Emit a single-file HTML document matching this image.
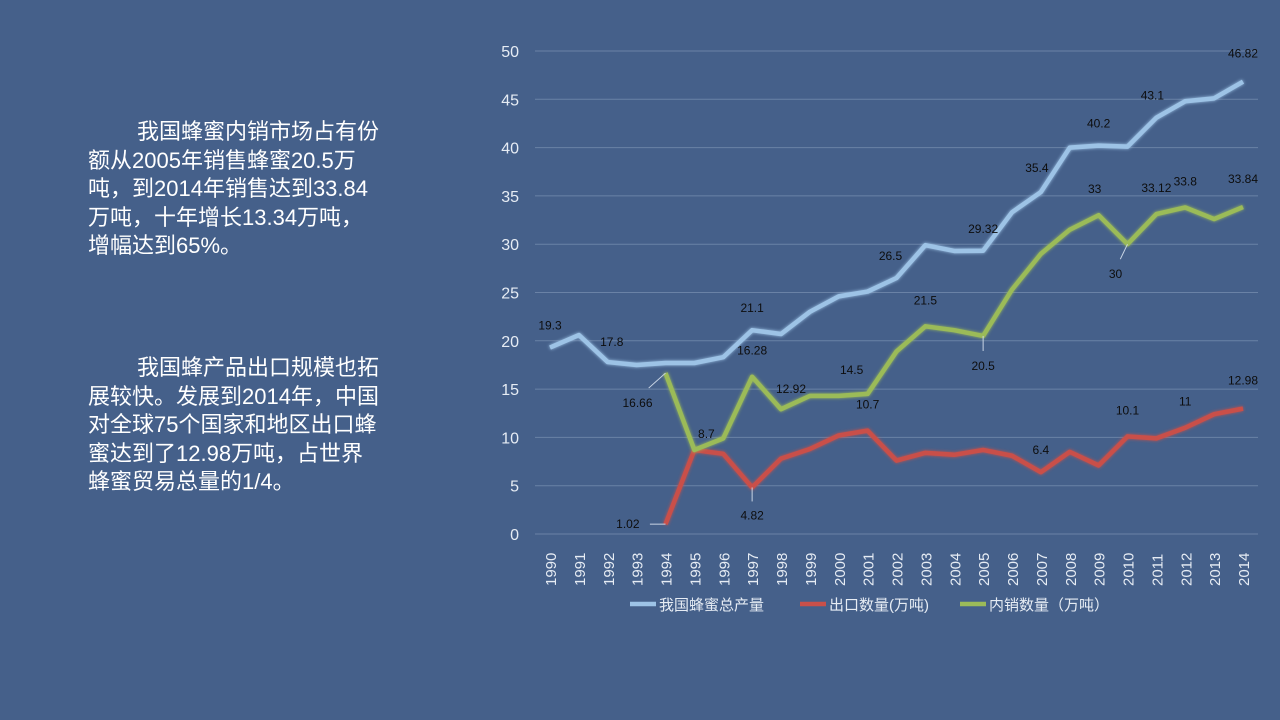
<!DOCTYPE html>
<html><head><meta charset="utf-8">
<style>
html,body{margin:0;padding:0;}
body{width:1280px;height:720px;background:#45608a;position:relative;overflow:hidden;font-family:"Liberation Sans","Noto Sans CJK SC",sans-serif;}
.txt{position:absolute;left:88px;color:#fff;font-size:22px;line-height:28.5px;font-family:"Liberation Sans Narrow","Liberation Sans","Noto Sans CJK SC",sans-serif;width:340px;white-space:nowrap;}
svg{position:absolute;left:0;top:0;}
</style></head>
<body>
<div class="txt" style="top:118px"><span style="padding-left:49px"></span>我国蜂蜜内销市场占有份<br>额从2005年销售蜂蜜20.5万<br>吨，到2014年销售达到33.84<br>万吨，十年增长13.34万吨，<br>增幅达到65%。</div>
<div class="txt" style="top:354px"><span style="padding-left:49px"></span>我国蜂产品出口规模也拓<br>展较快。发展到2014年，中国<br>对全球75个国家和地区出口蜂<br>蜜达到了12.98万吨，占世界<br>蜂蜜贸易总量的1/4。</div>
<svg id="chart" width="1280" height="720"></svg>
<script>
const years=[1990,1991,1992,1993,1994,1995,1996,1997,1998,1999,2000,2001,2002,2003,2004,2005,2006,2007,2008,2009,2010,2011,2012,2013,2014];
const totalProd=[19.3,20.6,17.8,17.5,17.7,17.7,18.3,21.1,20.7,23,24.6,25.1,26.5,29.9,29.3,29.32,33.3,35.4,40,40.2,40.1,43.1,44.8,45.1,46.82];
const exportQty=[null,null,null,null,1.02,8.7,8.3,4.82,7.8,8.8,10.2,10.7,7.6,8.4,8.2,8.7,8.1,6.4,8.5,7.1,10.1,9.9,11,12.4,12.98];
const domesticQty=[null,null,null,null,16.66,8.7,9.9,16.28,12.92,14.3,14.3,14.5,18.9,21.5,21.1,20.5,25.3,29,31.5,33,30,33.12,33.8,32.6,33.84];
const yTicks=[0,5,10,15,20,25,30,35,40,45,50];
const seriesNames=["我国蜂蜜总产量","出口数量(万吨)","内销数量（万吨）"];
const NS="http://www.w3.org/2000/svg";
const svg=document.getElementById('chart');
const x0=550,x1=1243,y0=534,y1=51;
const xs=i=>x0+(x1-x0)*i/(years.length-1);
const ys=v=>y0-(y0-y1)*v/50;
function el(t,a,p){const e=document.createElementNS(NS,t);for(const k in a)e.setAttribute(k,a[k]);(p||svg).appendChild(e);return e;}
const defs=el('defs',{});
const f=el('filter',{id:'glow',x:'-10%',y:'-10%',width:'120%',height:'120%'},defs);
el('feGaussianBlur',{stdDeviation:'1.5'},f);
const fm=el('feMerge',{},f);el('feMergeNode',{},fm);el('feMergeNode',{in:'SourceGraphic'},fm);
yTicks.forEach(t=>{
  const g=el('line',{x1:535,x2:1258,y1:ys(t),y2:ys(t),stroke:'#6a82a6','stroke-width':1});
  
  
  const l=el('text',{x:519,y:ys(t)+6,'text-anchor':'end',fill:'#e6ecf4','font-size':16});
  l.textContent=t;
  
  
});
years.forEach((y,i)=>{
  const t=el('text',{transform:`translate(${xs(i)+6},586) rotate(-90)`,fill:'#e6ecf4','font-size':15});
  t.textContent=y;
  
  
});
const colors=['#9dc3e6','#c9504a','#9bbb59'];
const data=[totalProd,exportQty,domesticQty];
const names=['line-total-production','line-export','line-domestic'];
data.forEach((d,s)=>{
  let p='';d.forEach((v,i)=>{if(v==null)return;p+=(p?'L':'M')+xs(i)+','+ys(v);});
  const path=el('path',{d:p,fill:'none',stroke:colors[s],'stroke-width':4.5,'stroke-linejoin':'round',filter:'url(#glow)'});
  
  
});
// data labels: [series, index, dx, dy]
const labels=[[0,0,0,-18],[0,2,4,-16],[0,7,0,-18],[0,12,-6,-18],[0,15,0,-18],[0,17,-4,-20],[0,19,0,-18],[0,21,-4,-18],[0,24,0,-24],
[2,4,-28,30],[2,5,12,-12],[2,7,0,-22],[2,8,10,-16],[2,11,-16,-20],[2,13,0,-22],[2,15,0,30],[2,19,-4,-22],[2,20,-12,30],[2,21,0,-22],[2,22,0,-22],[2,24,0,-24],
[1,4,-26,0],[1,7,0,28],[1,11,0,-22],[1,17,0,-18],[1,20,0,-22],[1,22,0,-22],[1,24,0,-24]];
labels.forEach(([s,i,dx,dy])=>{
  const v=data[s][i];const px=xs(i),py=ys(v);
  if(dy>=28||dx<-20){el('line',{x1:px,y1:py,x2:px+dx*0.6,y2:py+dy*0.5,stroke:'#c8d4e4','stroke-width':1});}
  const t=el('text',{x:px+dx,y:py+dy+(dy>0?4:0)+(dy===0?4:0),'text-anchor':dx<-20&&dy===0?'end':'middle',fill:'#0d0d0d','font-size':12});
  t.textContent=v;
  
  
});
// legend
const lx=[630,800,960];
seriesNames.forEach((n,s)=>{
  const g=el('g',{});
  
  
  el('line',{x1:lx[s],x2:lx[s]+26,y1:604,y2:604,stroke:colors[s],'stroke-width':4.5},g);
  const t=el('text',{x:lx[s]+29,y:610,fill:'#e6ecf4','font-size':15},g);
  t.textContent=n;
});
</script>
</body></html>
